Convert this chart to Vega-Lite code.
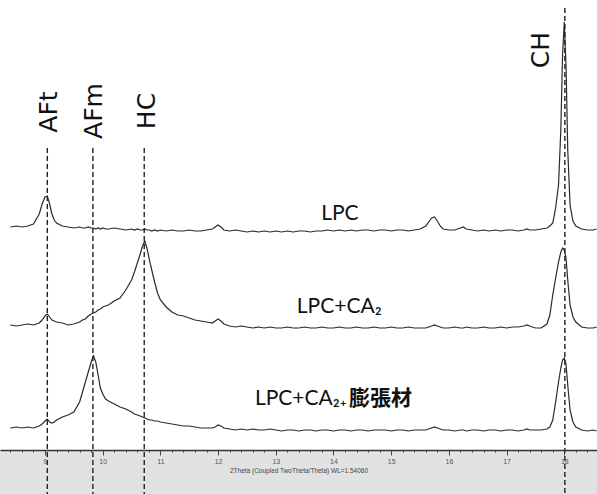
{
  "$schema": "https://vega.github.io/schema/vega-lite/v6.json",
  "width": 597,
  "height": 450,
  "padding": 0,
  "background": "white",
  "config": {
    "view": {"stroke": null},
    "axisX": {
      "grid": false,
      "labelOverlap": false,
      "labelFlush": false,
      "domainColor": "#333333",
      "domainWidth": 1.5,
      "tickColor": "#444444",
      "tickWidth": 1,
      "labelFontSize": 7,
      "labelColor": "#555555",
      "labelPadding": 2,
      "titleFontSize": 6.5,
      "titleFontWeight": "normal",
      "titleColor": "#444444",
      "titlePadding": 3
    }
  },
  "datasets": {
    "scan": [
      {"t": 8.40, "lpc": 223, "ca": 125, "ex": 22},
      {"t": 8.50, "lpc": 224, "ca": 124, "ex": 23},
      {"t": 8.60, "lpc": 223, "ca": 125, "ex": 22},
      {"t": 8.70, "lpc": 224, "ca": 126, "ex": 23},
      {"t": 8.80, "lpc": 226, "ca": 125, "ex": 22},
      {"t": 8.90, "lpc": 236, "ca": 127, "ex": 24},
      {"t": 8.95, "lpc": 246, "ca": 130, "ex": 26},
      {"t": 9.00, "lpc": 253, "ca": 134, "ex": 29},
      {"t": 9.04, "lpc": 254, "ca": 136, "ex": 31},
      {"t": 9.08, "lpc": 246, "ca": 133, "ex": 28},
      {"t": 9.12, "lpc": 236, "ca": 130, "ex": 27},
      {"t": 9.16, "lpc": 230, "ca": 129, "ex": 28},
      {"t": 9.20, "lpc": 227, "ca": 128, "ex": 30},
      {"t": 9.30, "lpc": 224, "ca": 127, "ex": 33},
      {"t": 9.40, "lpc": 223, "ca": 125, "ex": 35},
      {"t": 9.50, "lpc": 222, "ca": 126, "ex": 38},
      {"t": 9.60, "lpc": 223, "ca": 128, "ex": 48},
      {"t": 9.65, "lpc": 222, "ca": 130, "ex": 58},
      {"t": 9.70, "lpc": 222, "ca": 131, "ex": 68},
      {"t": 9.75, "lpc": 223, "ca": 134, "ex": 78},
      {"t": 9.80, "lpc": 222, "ca": 136, "ex": 88},
      {"t": 9.84, "lpc": 222, "ca": 137, "ex": 94},
      {"t": 9.88, "lpc": 221, "ca": 138, "ex": 88},
      {"t": 9.92, "lpc": 222, "ca": 140, "ex": 75},
      {"t": 9.96, "lpc": 221, "ca": 141, "ex": 62},
      {"t": 10.00, "lpc": 222, "ca": 143, "ex": 56},
      {"t": 10.05, "lpc": 221, "ca": 144, "ex": 51},
      {"t": 10.10, "lpc": 221, "ca": 145, "ex": 49},
      {"t": 10.20, "lpc": 222, "ca": 149, "ex": 46},
      {"t": 10.30, "lpc": 221, "ca": 152, "ex": 43},
      {"t": 10.40, "lpc": 220, "ca": 160, "ex": 41},
      {"t": 10.50, "lpc": 221, "ca": 170, "ex": 38},
      {"t": 10.55, "lpc": 220, "ca": 178, "ex": 36},
      {"t": 10.60, "lpc": 221, "ca": 187, "ex": 35},
      {"t": 10.65, "lpc": 220, "ca": 196, "ex": 34},
      {"t": 10.69, "lpc": 220, "ca": 204, "ex": 33},
      {"t": 10.73, "lpc": 221, "ca": 209, "ex": 32},
      {"t": 10.77, "lpc": 220, "ca": 201, "ex": 31},
      {"t": 10.81, "lpc": 220, "ca": 190, "ex": 30},
      {"t": 10.85, "lpc": 219, "ca": 180, "ex": 30},
      {"t": 10.90, "lpc": 220, "ca": 168, "ex": 29},
      {"t": 10.95, "lpc": 219, "ca": 157, "ex": 29},
      {"t": 11.00, "lpc": 220, "ca": 150, "ex": 28},
      {"t": 11.10, "lpc": 219, "ca": 143, "ex": 27},
      {"t": 11.20, "lpc": 220, "ca": 138, "ex": 26},
      {"t": 11.30, "lpc": 219, "ca": 135, "ex": 25},
      {"t": 11.40, "lpc": 219, "ca": 134, "ex": 24},
      {"t": 11.50, "lpc": 220, "ca": 132, "ex": 24},
      {"t": 11.60, "lpc": 219, "ca": 130, "ex": 23},
      {"t": 11.70, "lpc": 219, "ca": 129, "ex": 22},
      {"t": 11.80, "lpc": 220, "ca": 128, "ex": 22},
      {"t": 11.90, "lpc": 221, "ca": 127, "ex": 22},
      {"t": 11.95, "lpc": 223, "ca": 129, "ex": 23},
      {"t": 12.00, "lpc": 225, "ca": 131, "ex": 25},
      {"t": 12.05, "lpc": 223, "ca": 129, "ex": 24},
      {"t": 12.10, "lpc": 220, "ca": 126, "ex": 22},
      {"t": 12.20, "lpc": 219, "ca": 124, "ex": 21},
      {"t": 12.30, "lpc": 220, "ca": 123, "ex": 20},
      {"t": 12.40, "lpc": 219, "ca": 124, "ex": 21},
      {"t": 12.50, "lpc": 218, "ca": 123, "ex": 20},
      {"t": 12.60, "lpc": 219, "ca": 122, "ex": 21},
      {"t": 12.70, "lpc": 218, "ca": 123, "ex": 20},
      {"t": 12.80, "lpc": 219, "ca": 122, "ex": 20},
      {"t": 12.90, "lpc": 218, "ca": 123, "ex": 21},
      {"t": 13.00, "lpc": 219, "ca": 122, "ex": 20},
      {"t": 13.10, "lpc": 218, "ca": 122, "ex": 19},
      {"t": 13.20, "lpc": 219, "ca": 123, "ex": 20},
      {"t": 13.30, "lpc": 218, "ca": 122, "ex": 20},
      {"t": 13.40, "lpc": 219, "ca": 122, "ex": 19},
      {"t": 13.50, "lpc": 219, "ca": 123, "ex": 20},
      {"t": 13.60, "lpc": 218, "ca": 122, "ex": 20},
      {"t": 13.70, "lpc": 219, "ca": 122, "ex": 19},
      {"t": 13.80, "lpc": 219, "ca": 123, "ex": 20},
      {"t": 13.90, "lpc": 220, "ca": 122, "ex": 20},
      {"t": 14.00, "lpc": 219, "ca": 122, "ex": 19},
      {"t": 14.10, "lpc": 220, "ca": 123, "ex": 20},
      {"t": 14.20, "lpc": 219, "ca": 122, "ex": 20},
      {"t": 14.30, "lpc": 220, "ca": 122, "ex": 19},
      {"t": 14.40, "lpc": 219, "ca": 123, "ex": 20},
      {"t": 14.50, "lpc": 220, "ca": 122, "ex": 20},
      {"t": 14.60, "lpc": 220, "ca": 122, "ex": 19},
      {"t": 14.70, "lpc": 219, "ca": 123, "ex": 20},
      {"t": 14.80, "lpc": 220, "ca": 122, "ex": 20},
      {"t": 14.90, "lpc": 220, "ca": 122, "ex": 20},
      {"t": 15.00, "lpc": 219, "ca": 123, "ex": 19},
      {"t": 15.10, "lpc": 220, "ca": 122, "ex": 20},
      {"t": 15.20, "lpc": 220, "ca": 122, "ex": 20},
      {"t": 15.30, "lpc": 219, "ca": 123, "ex": 19},
      {"t": 15.40, "lpc": 220, "ca": 122, "ex": 20},
      {"t": 15.50, "lpc": 221, "ca": 122, "ex": 20},
      {"t": 15.60, "lpc": 224, "ca": 122, "ex": 20},
      {"t": 15.65, "lpc": 228, "ca": 123, "ex": 21},
      {"t": 15.70, "lpc": 232, "ca": 124, "ex": 22},
      {"t": 15.75, "lpc": 233, "ca": 125, "ex": 23},
      {"t": 15.80, "lpc": 229, "ca": 124, "ex": 22},
      {"t": 15.85, "lpc": 224, "ca": 123, "ex": 21},
      {"t": 15.90, "lpc": 221, "ca": 122, "ex": 20},
      {"t": 16.00, "lpc": 220, "ca": 122, "ex": 20},
      {"t": 16.10, "lpc": 220, "ca": 123, "ex": 19},
      {"t": 16.20, "lpc": 222, "ca": 122, "ex": 20},
      {"t": 16.25, "lpc": 223, "ca": 122, "ex": 20},
      {"t": 16.30, "lpc": 221, "ca": 123, "ex": 19},
      {"t": 16.40, "lpc": 220, "ca": 122, "ex": 20},
      {"t": 16.50, "lpc": 219, "ca": 122, "ex": 20},
      {"t": 16.60, "lpc": 220, "ca": 123, "ex": 19},
      {"t": 16.70, "lpc": 219, "ca": 122, "ex": 20},
      {"t": 16.80, "lpc": 220, "ca": 122, "ex": 20},
      {"t": 16.90, "lpc": 219, "ca": 123, "ex": 19},
      {"t": 17.00, "lpc": 220, "ca": 122, "ex": 20},
      {"t": 17.10, "lpc": 220, "ca": 123, "ex": 20},
      {"t": 17.20, "lpc": 219, "ca": 123, "ex": 19},
      {"t": 17.30, "lpc": 220, "ca": 124, "ex": 20},
      {"t": 17.35, "lpc": 221, "ca": 125, "ex": 21},
      {"t": 17.40, "lpc": 220, "ca": 124, "ex": 20},
      {"t": 17.50, "lpc": 220, "ca": 122, "ex": 20},
      {"t": 17.60, "lpc": 221, "ca": 122, "ex": 20},
      {"t": 17.70, "lpc": 222, "ca": 126, "ex": 21},
      {"t": 17.75, "lpc": 224, "ca": 135, "ex": 23},
      {"t": 17.80, "lpc": 227, "ca": 155, "ex": 30},
      {"t": 17.85, "lpc": 242, "ca": 172, "ex": 48},
      {"t": 17.90, "lpc": 265, "ca": 188, "ex": 68},
      {"t": 17.94, "lpc": 320, "ca": 198, "ex": 82},
      {"t": 17.97, "lpc": 395, "ca": 202, "ex": 90},
      {"t": 18.00, "lpc": 428, "ca": 200, "ex": 92},
      {"t": 18.03, "lpc": 385, "ca": 192, "ex": 86},
      {"t": 18.06, "lpc": 300, "ca": 170, "ex": 65},
      {"t": 18.10, "lpc": 245, "ca": 145, "ex": 40},
      {"t": 18.15, "lpc": 229, "ca": 133, "ex": 28},
      {"t": 18.20, "lpc": 224, "ca": 128, "ex": 23},
      {"t": 18.30, "lpc": 221, "ca": 123, "ex": 20},
      {"t": 18.40, "lpc": 220, "ca": 122, "ex": 19},
      {"t": 18.50, "lpc": 220, "ca": 122, "ex": 20},
      {"t": 18.56, "lpc": 221, "ca": 123, "ex": 19}
    ],
    "phases": [
      {"phase": "AFt", "t": 9.04, "labelT": 9.07, "lineTop": 302, "labelY": 338},
      {"phase": "AFm", "t": 9.83, "labelT": 9.85, "lineTop": 302, "labelY": 339},
      {"phase": "HC", "t": 10.72, "labelT": 10.77, "lineTop": 302, "labelY": 339},
      {"phase": "CH", "t": 18.01, "labelT": 17.59, "lineTop": 442, "labelY": 400}
    ],
    "samples": [
      {"label": "LPC", "t": 14.11, "v": 230},
      {"label": "LPC+CA₂", "t": 14.10, "v": 137}
    ],
    "mixLatin": [{"label": "LPC+CA₂₊", "t": 14.23, "v": 45}],
    "mixKanji": [{"label": "膨張材", "t": 14.27, "v": 45}]
  },
  "layer": [
    {
      "data": {"values": [{}]},
      "mark": {"type": "rect", "color": "#e2e2e2"},
      "encoding": {
        "x": {"datum": 8.22, "type": "quantitative", "scale": {"domain": [8.22, 18.567], "nice": false, "zero": false}},
        "x2": {"datum": 18.567},
        "y": {"datum": 0, "type": "quantitative", "scale": {"domain": [0, 450], "nice": false, "zero": false}, "axis": null},
        "y2": {"datum": -44}
      }
    },
    {
      "data": {"name": "scan"},
      "transform": [{"fold": ["lpc", "ca", "ex"], "as": ["sample", "intensity"]}],
      "mark": {"type": "line", "color": "#2a2a2a", "strokeWidth": 1.2},
      "encoding": {
        "x": {
          "field": "t",
          "type": "quantitative",
          "scale": {"domain": [8.22, 18.567], "nice": false, "zero": false},
          "axis": {
            "zindex": 1,
            "title": "2Theta (Coupled TwoTheta/Theta) WL=1.54060",
            "tickCount": 100,
            "values": [8.4, 8.6, 8.8, 9, 9.2, 9.4, 9.6, 9.8, 10, 10.2, 10.4, 10.6, 10.8, 11, 11.2, 11.4, 11.6, 11.8, 12, 12.2, 12.4, 12.6, 12.8, 13, 13.2, 13.4, 13.6, 13.8, 14, 14.2, 14.4, 14.6, 14.8, 15, 15.2, 15.4, 15.6, 15.8, 16, 16.2, 16.4, 16.6, 16.8, 17, 17.2, 17.4, 17.6, 17.8, 18, 18.2, 18.4],
            "labelExpr": "datum.value % 1 === 0 ? format(datum.value, 'd') : ''",
            "tickSize": {"condition": {"test": "datum.value % 1 === 0", "value": 5}, "value": 2},
            "labelOverlap": false
          }
        },
        "y": {"field": "intensity", "type": "quantitative", "scale": {"domain": [0, 450], "nice": false, "zero": false}, "axis": null},
        "detail": {"field": "sample"}
      }
    },
    {
      "data": {"name": "phases"},
      "mark": {"type": "rule", "color": "#222222", "strokeWidth": 1.4, "strokeDash": [5, 3]},
      "encoding": {
        "x": {"field": "t", "type": "quantitative", "scale": {"domain": [8.22, 18.567], "nice": false, "zero": false}},
        "y": {"field": "lineTop", "type": "quantitative", "scale": {"domain": [0, 450], "nice": false, "zero": false}, "axis": null},
        "y2": {"datum": -44}
      }
    },
    {
      "data": {"name": "phases"},
      "mark": {"type": "text", "angle": 270, "align": "center", "baseline": "middle", "font": "DejaVu Sans", "fontSize": 25, "color": "#111111"},
      "encoding": {
        "x": {"field": "labelT", "type": "quantitative", "scale": {"domain": [8.22, 18.567], "nice": false, "zero": false}},
        "y": {"field": "labelY", "type": "quantitative", "scale": {"domain": [0, 450], "nice": false, "zero": false}, "axis": null},
        "text": {"field": "phase"}
      }
    },
    {
      "data": {"name": "samples"},
      "mark": {"type": "text", "align": "center", "baseline": "alphabetic", "font": "Lato", "fontSize": 21, "color": "#111111"},
      "encoding": {
        "x": {"field": "t", "type": "quantitative", "scale": {"domain": [8.22, 18.567], "nice": false, "zero": false}},
        "y": {"field": "v", "type": "quantitative", "scale": {"domain": [0, 450], "nice": false, "zero": false}, "axis": null},
        "text": {"field": "label"}
      }
    },
    {
      "data": {"name": "mixLatin"},
      "mark": {"type": "text", "align": "right", "baseline": "alphabetic", "font": "Lato", "fontSize": 21, "color": "#111111"},
      "encoding": {
        "x": {"field": "t", "type": "quantitative", "scale": {"domain": [8.22, 18.567], "nice": false, "zero": false}},
        "y": {"field": "v", "type": "quantitative", "scale": {"domain": [0, 450], "nice": false, "zero": false}, "axis": null},
        "text": {"field": "label"}
      }
    },
    {
      "data": {"name": "mixKanji"},
      "mark": {"type": "text", "align": "left", "baseline": "alphabetic", "font": "Noto Sans CJK JP", "fontWeight": "bold", "fontSize": 21, "color": "#111111"},
      "encoding": {
        "x": {"field": "t", "type": "quantitative", "scale": {"domain": [8.22, 18.567], "nice": false, "zero": false}},
        "y": {"field": "v", "type": "quantitative", "scale": {"domain": [0, 450], "nice": false, "zero": false}, "axis": null},
        "text": {"field": "label"}
      }
    }
  ]
}
